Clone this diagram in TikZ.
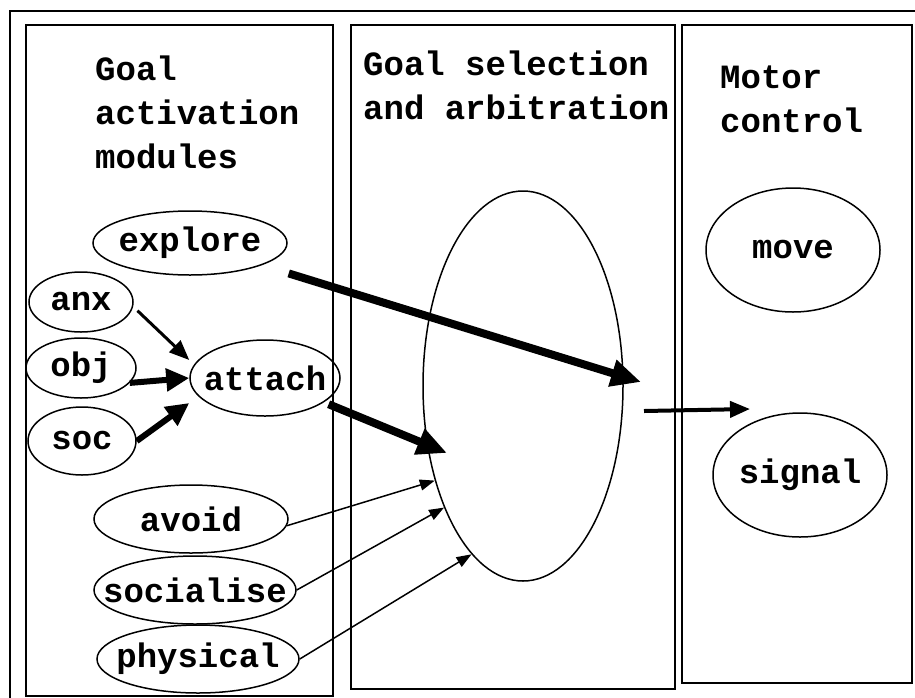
\documentclass[tikz,border=0pt]{standalone}
\usepackage{fontspec}
\setmonofont{Liberation Mono}
\usetikzlibrary{arrows.meta,shapes.geometric}
\newcommand{\boxfont}{\ttfamily\bfseries\fontsize{34}{44}\selectfont}
\tikzset{
  panel/.style={
    draw,
    line width=2pt
  },
  heading/.style={
    anchor=base west,
    align=left,
    inner sep=0pt,
    font=\boxfont
  },
  module/.style 2 args={
    ellipse,
    draw,
    line width=1.5pt,
    inner sep=0pt,
    minimum width=#1,
    minimum height=#2,
    font=\boxfont
  },
  heavy/.style={
    -{Triangle[length=30pt,width=26pt]},
    line width=8pt
  },
  medium/.style={
    -{Triangle[length=23pt,width=22pt]},
    line width=6pt
  },
  light/.style={
    -{Triangle[length=15pt,width=11pt]},
    line width=1.5pt
  }
}

\begin{document}
\begin{tikzpicture}[x=1pt,y=-1pt]
\clip (0,0) rectangle (915,697);
% frame and the three columns
\draw[panel] (10,11) rectangle (935,715);
\draw[panel] (26,25) rectangle (333,696);
\draw[panel] (351,25) rectangle (675,689);
\draw[panel] (682,25) rectangle (912,683);
% titles, placed at the baseline of their last line
\node[heading] (acttitle) at (95,168) {Goal\\activation\\modules};
\node[heading] (seltitle) at (363,119) {Goal selection\\and arbitration};
\node[heading] (mottitle) at (720,132) {Motor\\control};
% goal activation modules
\node[module={194pt}{64pt}] (explore) at (190,243) {\makebox[0pt]{explore}};
\node[module={104pt}{60pt}] (anx) at (81,302) {\makebox[0pt]{anx}};
\node[module={110pt}{60pt}] (obj) at (81,368) {\makebox[0pt]{obj}};
\node[module={108pt}{68pt}] (soc) at (82,441) {\makebox[0pt]{soc}};
\node[module={150pt}{76pt}] (attach) at (265,378) {\makebox[0pt]{attach}};
\node[module={194pt}{68pt}] (avoid) at (191,519) {\makebox[0pt]{avoid}};
\node[module={202pt}{68pt}] (socialise) at (195,590) {\makebox[0pt]{socialise}};
\node[module={202pt}{68pt}] (physical) at (198,659) {\makebox[0pt]{physical}};
% selection
\node[module={200pt}{390pt}] (sel) at (523,386) {};
\coordinate (selA) at (641,382);
\coordinate (selB) at (447,453);
\coordinate (selout) at (644,411);
% motor control
\node[module={174pt}{124pt}] (move) at (793,250) {\makebox[0pt]{move}};
\node[module={174pt}{124pt}] (signal) at (800,475) {\makebox[0pt]{signal}};
\coordinate (sigin) at (750,409);
% connections
\draw[heavy,shorten <=28pt] (explore) -- (selA);
\draw[heavy,shorten <=5pt] (attach) -- (selB);
\draw[-{Triangle[length=20pt,width=16pt]},line width=3pt,shorten <=6pt] (anx.-5) -- ([yshift=18pt]attach.west);
\draw[medium] (obj.-17) -- (attach.west);
\draw[medium] (soc.east) -- ([yshift=-25pt]attach.west);
\draw[light] (avoid.-4) -- (sel.227);
\draw[light] (socialise.east) -- (sel.237);
\draw[light] (physical.east) -- (sel.253);
\draw[-{Triangle[length=20pt,width=16pt]},line width=4pt] (selout) -- (sigin);
\end{tikzpicture}
\end{document}
